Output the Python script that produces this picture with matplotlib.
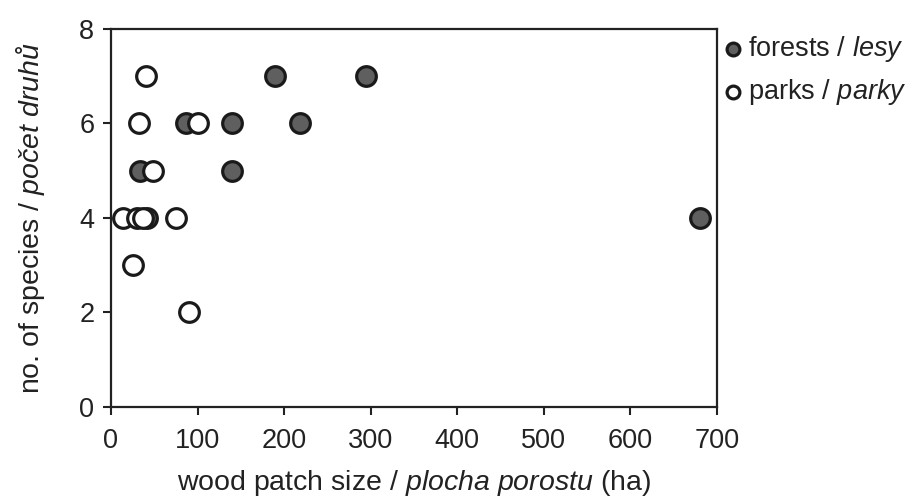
import matplotlib
matplotlib.use("Agg")
import matplotlib.pyplot as plt

plt.rcParams["font.family"] = ["Liberation Sans", "DejaVu Sans"]
plt.rcParams["mathtext.fontset"] = "custom"
plt.rcParams["mathtext.rm"] = "Liberation Sans"
plt.rcParams["mathtext.it"] = "Liberation Sans:italic"

# forests / lesy (dark grey markers)
forest_x = [190, 295, 87, 140, 218, 33, 140, 42, 680]
forest_y = [7, 7, 6, 6, 6, 5, 5, 4, 4]

# parks / parky (white markers)
park_x = [41, 32, 100, 48, 14, 30, 37, 75, 25, 90]
park_y = [7, 6, 6, 5, 4, 4, 4, 4, 3, 2]

x_ticks = [0, 100, 200, 300, 400, 500, 600, 700]
y_ticks = [0, 2, 4, 6, 8]

fig = plt.figure(figsize=(9.15, 4.99), dpi=100)
ax = fig.add_axes([0.1213, 0.1844, 0.6623, 0.7575])

ax.scatter(forest_x, forest_y, s=200, facecolor="#5f5f5f", edgecolor="#1a1a1a",
           linewidths=2.3, zorder=3, label=r"forests / $\it{lesy}$")
ax.scatter(park_x, park_y, s=200, facecolor="white", edgecolor="#1a1a1a",
           linewidths=2.3, zorder=4, label=r"parks / $\it{parky}$")

ax.set_xlim(0, 700)
ax.set_ylim(0, 8)
ax.set_xticks(x_ticks)
ax.set_yticks(y_ticks)
ax.tick_params(direction="out", length=6, width=1.5, labelsize=19.5, pad=6,
               color="#222222", labelcolor="#222222")
ax.tick_params(axis="x", pad=9)
for sp in ax.spines.values():
    sp.set_linewidth(1.6)
    sp.set_color("#222222")

ax.set_xlabel(r"wood patch size / $\it{plocha\ porostu}$ (ha)", fontsize=20.5,
              labelpad=10, color="#222222")
ax.set_ylabel(r"no. of species / $\it{počet\ druhů}$", fontsize=20.5,
              labelpad=23, color="#222222")

leg = ax.legend(loc="upper left", bbox_to_anchor=(0.977, 1.03), frameon=False,
                fontsize=19.5, markerscale=0.65, handletextpad=0.05,
                labelspacing=0.5, borderaxespad=0.2, handlelength=1.0)
for t in leg.get_texts():
    t.set_color("#222222")

fig.savefig("out.png", dpi=100)
